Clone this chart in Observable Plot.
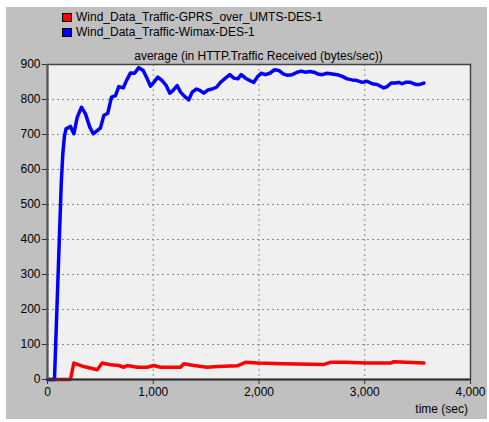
<!DOCTYPE html>
<html>
<head>
<meta charset="utf-8">
<script src="https://cdn.jsdelivr.net/npm/d3@7"></script>
<script src="https://cdn.jsdelivr.net/npm/@observablehq/plot@0.6"></script>
<style>
  html, body { margin: 0; padding: 0; background: #ffffff; }
  #wrap { position: relative; width: 489px; height: 422px; overflow: hidden; font-family: Arial, "Liberation Sans", sans-serif; }
  #panel { position: absolute; left: 6px; top: 7px; width: 481px; height: 412px; background: #c0c0c0; }
  #chart { position: absolute; left: 0; top: 0; }
  .leg { position: absolute; left: 62px; font-size: 12px; line-height: 14px; color: #000; white-space: nowrap; }
  .sw { display: inline-block; width: 8px; height: 7px; border: 1px solid #000; vertical-align: -1px; margin-right: 4px; }
  #title { position: absolute; left: 47px; width: 423px; top: 49px; text-align: center; font-size: 12px; color: #000; white-space: nowrap; }
  #xlab { position: absolute; right: 21px; top: 402px; font-size: 12px; color: #000; }
</style>
</head>
<body>
<div id="wrap">
  <div id="panel"></div>
  <div id="chart"></div>
  <div class="leg" id="leg1" style="top:10px"></div>
  <div class="leg" id="leg2" style="top:25px"></div>
  <div id="title"></div>
  <div id="xlab"></div>
</div>
<script>
const seriesNames = ["Wind_Data_Traffic-GPRS_over_UMTS-DES-1", "Wind_Data_Traffic-Wimax-DES-1"];
const seriesColors = ["#ff0000", "#0000ff"];
const titleText = "average (in HTTP.Traffic Received (bytes/sec))";
const xLabelText = "time (sec)";
const xTicks = [0, 1000, 2000, 3000, 4000];
const yTicks = [0, 100, 200, 300, 400, 500, 600, 700, 800, 900];

const redT = [0, 217, 249, 343, 470, 517, 596, 674, 722, 753, 848, 943, 1005, 1068, 1258, 1289, 1383, 1510, 1604, 1794, 1872, 1983, 2234, 2613, 2676, 2802, 3023, 3244, 3275, 3559];
const redV = [0, 0, 47, 37, 28, 47, 42, 40, 35, 40, 35, 35, 40, 35, 35, 45, 40, 35, 37, 39, 49, 47, 45, 43, 49, 49, 47, 47, 51, 47];

const blueT = [0, 66, 130, 145, 160, 175, 217, 249, 281, 321, 359, 400, 432, 470, 501, 532, 570, 605, 643, 674, 716, 747, 785, 823, 863, 905, 943, 974, 1005, 1043, 1084, 1122, 1157, 1188, 1226, 1258, 1296, 1336, 1368, 1409, 1441, 1478, 1516, 1557, 1598, 1636, 1683, 1724, 1762, 1800, 1831, 1872, 1913, 1951, 1983, 2021, 2061, 2102, 2147, 2187, 2229, 2272, 2314, 2361, 2399, 2440, 2480, 2518, 2556, 2597, 2645, 2692, 2739, 2787, 2834, 2881, 2928, 2976, 3023, 3070, 3118, 3180, 3212, 3250, 3291, 3322, 3354, 3385, 3433, 3480, 3521, 3559];
const blueV = [0, 0, 560, 645, 695, 716, 723, 702, 749, 778, 759, 721, 702, 711, 719, 754, 761, 807, 811, 837, 833, 854, 876, 875, 891, 883, 859, 838, 849, 864, 854, 840, 818, 826, 840, 821, 809, 799, 821, 830, 826, 818, 827, 830, 835, 849, 861, 871, 861, 859, 871, 861, 854, 849, 864, 875, 871, 875, 885, 883, 873, 869, 871, 878, 881, 878, 880, 878, 873, 871, 875, 873, 871, 866, 859, 856, 854, 849, 852, 845, 843, 833, 837, 847, 847, 849, 845, 849, 849, 843, 843, 847];

const red = redT.map((t, i) => ({t, v: redV[i]}));
const blue = blueT.map((t, i) => ({t, v: blueV[i]}));

const chart = Plot.plot({
  width: 489,
  height: 422,
  marginLeft: 47,
  marginRight: 19,
  marginTop: 64,
  marginBottom: 43,
  style: {background: "transparent", fontFamily: "Arial, 'Liberation Sans', sans-serif", fontSize: "12px", color: "#000"},
  x: {domain: [0, 4000]},
  y: {domain: [0, 900]},
  marks: [
    Plot.frame({fill: "#f0f0f0"}),
    Plot.gridY(yTicks, {stroke: "#8a8a8a", strokeOpacity: 1, strokeDasharray: "2,3", strokeWidth: 1}),
    Plot.gridX(xTicks, {stroke: "#8a8a8a", strokeOpacity: 1, strokeDasharray: "2,3", strokeWidth: 1}),
    Plot.line(red, {x: "t", y: "v", stroke: seriesColors[0], strokeWidth: 3.5, strokeLinejoin: "round"}),
    Plot.line(blue, {x: "t", y: "v", stroke: seriesColors[1], strokeWidth: 3.5, strokeLinejoin: "round"}),
    Plot.frame({stroke: "#444", strokeWidth: 1.5}),
    Plot.ruleX([0], {stroke: "#555", strokeWidth: 2}),
    Plot.ruleY([0], {stroke: "#333", strokeWidth: 2}),
    Plot.axisY(yTicks, {tickSize: 5, tickPadding: 2, label: null, stroke: "#333", fill: "#000"}),
    Plot.axisX(xTicks, {tickSize: 5, tickPadding: 3, label: null, tickFormat: d3.format(","), stroke: "#333", fill: "#000"})
  ]
});
document.getElementById("chart").appendChild(chart);

document.getElementById("leg1").innerHTML = `<span class="sw" style="background:${seriesColors[0]}"></span>${seriesNames[0]}`;
document.getElementById("leg2").innerHTML = `<span class="sw" style="background:${seriesColors[1]}"></span>${seriesNames[1]}`;
document.getElementById("title").textContent = titleText;
document.getElementById("xlab").textContent = xLabelText;
</script>
</body>
</html>
